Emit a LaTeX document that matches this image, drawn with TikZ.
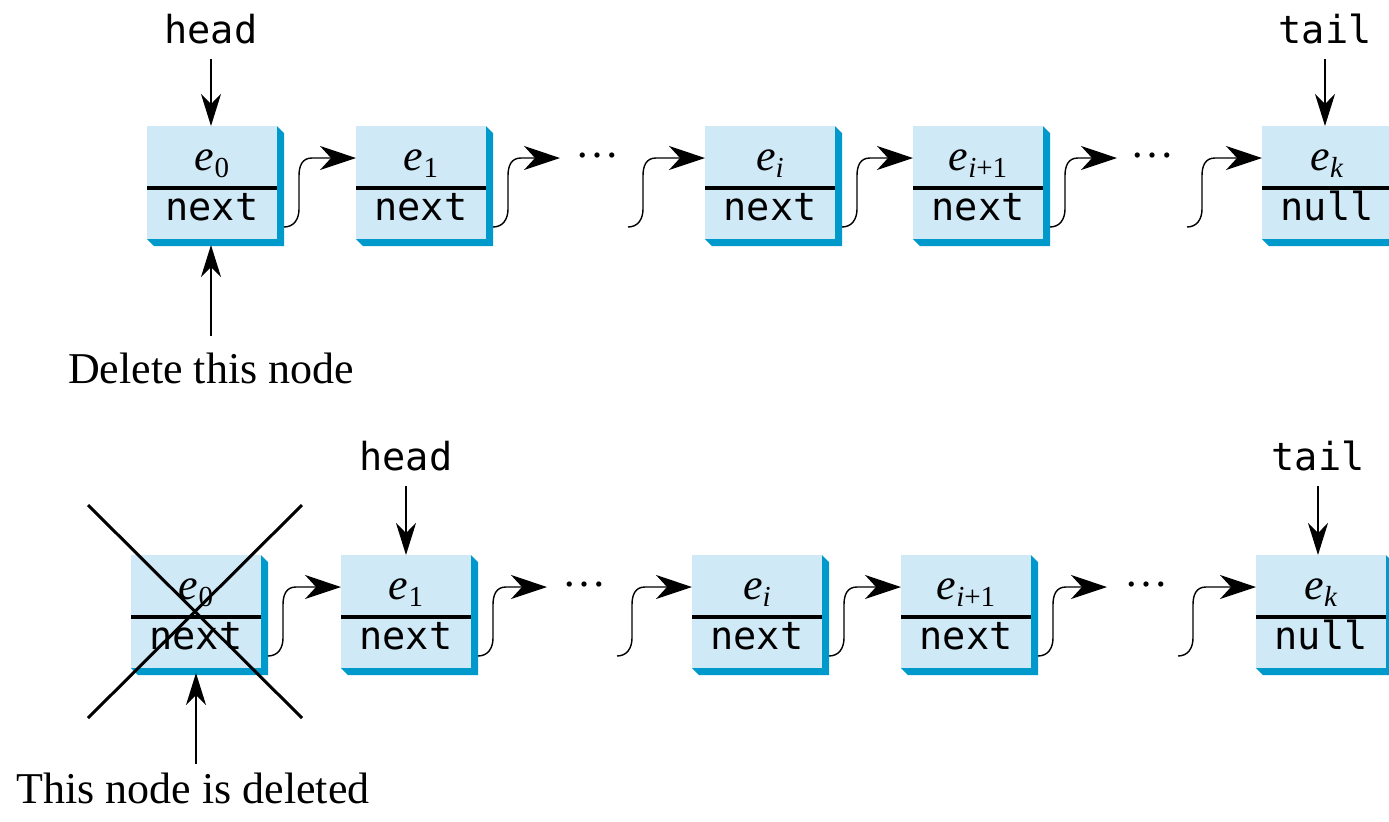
\documentclass[tikz,border=0pt]{standalone}
\usepackage{fontspec}
\setmainfont{Liberation Serif}
\setmonofont{DejaVu Sans Mono}
\usetikzlibrary{arrows.meta}
\definecolor{cellfill}{HTML}{CFE9F7}
\definecolor{cellshade}{HTML}{0099CC}
\tikzset{
  cellbox/.style={fill=cellfill, minimum width=65pt, minimum height=56.5pt, inner sep=0pt, outer sep=0pt, anchor=north west},
  shade3d/.style={fill=cellshade},
  divider/.style={line width=1.6pt},
  datatxt/.style={font=\fontsize{22}{22}\selectfont, anchor=base, inner sep=0pt},
  ptrtxt/.style={font=\ttfamily\fontsize{19.3}{20}\selectfont, anchor=base, inner sep=0pt},
  link/.style={line width=0.7pt, -{Stealth[length=18pt,width=12pt,inset=5.5pt]}},
  pointer/.style={line width=0.8pt, -{Stealth[length=16pt,width=10pt,inset=5pt]}},
  note/.style={font=\fontsize{22}{22}\selectfont, anchor=base, inner sep=0pt},
  dotstxt/.style={font=\fontsize{22}{22}\selectfont, anchor=base, inner sep=0pt},
  cross/.style={line width=1.5pt},
}
\newcommand\ee[1]{\textit{e}\raisebox{-3.5pt}{\fontsize{14.5}{14.5}\selectfont #1}}
\newcommand\cell[5]{%
  \fill[shade3d] (#2+130,#3) -- (#2+137,#3+7) -- (#2+137,#3+120) -- (#2+7,#3+120) -- (#2,#3+113) -- (#2+130,#3+113) -- cycle;
  \node[cellbox] (#1) at (#2,#3) {};
  \draw[divider] (#2,#3+62) -- (#2+130,#3+62);
  \node[datatxt] (#1-data) at (#2+65,#3+44) {#4};
  \node[ptrtxt] (#1-next) at (#2+65,#3+94) {#5};
  \coordinate (#1-out) at (#2+137,#3+101);
  \coordinate (#1-in) at (#2,#3+32);
}
\newcommand\slink[2]{%
  \draw[link] (#1) .. controls +(10,0) and +(0,10) .. ([shift={(15,-18)}]#1) -- ([shift={(15,-51)}]#1) .. controls +(0,-10) and +(-10,0) .. ([shift={(28,-69)}]#1) -- (#2);
}
\begin{document}
\begin{tikzpicture}[x=0.5pt,y=-0.5pt]
\useasboundingbox (0,0) rectangle (1389,821);
\clip (0,0) rectangle (1389,821);
% ---------- top row ----------
\cell{a0}{147}{126}{\ee{0}}{next}
\cell{a1}{356}{126}{\ee{1}}{next}
\cell{ai}{705}{126}{\ee{\textit{i}}}{next}
\cell{aj}{913}{126}{\ee{\textit{i}+1}}{next}
\cell{ak}{1262}{126}{\ee{\textit{k}}}{null}
\node[dotstxt] (d1) at (597,157) {…};
\node[dotstxt] (d2) at (1152,157) {…};
\coordinate (t1) at (560,158);
\coordinate (t2) at (1117,158);
\coordinate (f1) at (628,227);
\coordinate (f2) at (1187,227);
\slink{a0-out}{a1-in}
\slink{a1-out}{t1}
\slink{f1}{ai-in}
\slink{ai-out}{aj-in}
\slink{aj-out}{t2}
\slink{f2}{ak-in}
\node[ptrtxt] (head1) at (211,43) {head};
\draw[pointer, shorten <=7.5pt] (head1.south) -- (head1.south |- a0.north);
\node[ptrtxt] (tail1) at (1325,43) {tail};
\draw[pointer, shorten <=7.5pt] (tail1.south) -- (tail1.south |- ak.north);
\node[note] (del1) at (211,383) {Delete this node};
\draw[pointer, shorten <=8pt] (del1.north) -- ([yshift=-3pt]del1.north |- a0.south);
% ---------- bottom row ----------
\cell{b0}{131}{555}{\ee{0}}{next}
\cell{b1}{341}{555}{\ee{1}}{next}
\cell{bi}{692}{555}{\ee{\textit{i}}}{next}
\cell{bj}{901}{555}{\ee{\textit{i}+1}}{next}
\cell{bk}{1256}{555}{\ee{\textit{k}}}{null}
\node[dotstxt] (d3) at (584,586) {…};
\node[dotstxt] (d4) at (1146,586) {…};
\coordinate (t3) at (547,587);
\coordinate (t4) at (1107,587);
\coordinate (f3) at (617,656);
\coordinate (f4) at (1178,656);
\slink{b0-out}{b1-in}
\slink{b1-out}{t3}
\slink{f3}{bi-in}
\slink{bi-out}{bj-in}
\slink{bj-out}{t4}
\slink{f4}{bk-in}
\draw[cross] (88,505) -- (302,718);
\draw[cross] (302,505) -- (88,718);
\node[ptrtxt] (head2) at (406,470) {head};
\draw[pointer, shorten <=7.5pt] (head2.south) -- (head2.south |- b1.north);
\node[ptrtxt] (tail2) at (1318,470) {tail};
\draw[pointer, shorten <=7.5pt] (tail2.south) -- (tail2.south |- bk.north);
\node[note] (del2) at (193,803) {This node is deleted};
\draw[pointer, shorten <=4pt] (b0.south |- del2.north) -- ([yshift=-2.5pt]b0.south);
\end{tikzpicture}
\end{document}
